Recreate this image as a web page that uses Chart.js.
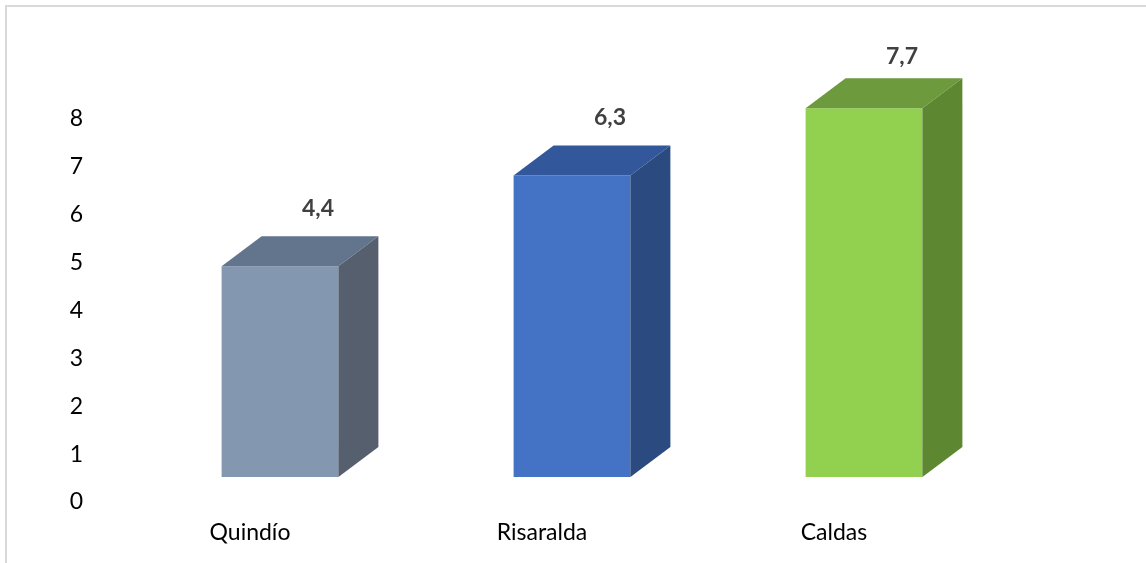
<!DOCTYPE html>
<html>
<head>
<meta charset="utf-8">
<title>Quindío, Risaralda, Caldas</title>
<script src="https://cdn.jsdelivr.net/npm/chart.js@4/dist/chart.umd.min.js"></script>
<style>
  html, body { margin: 0; padding: 0; background: #ffffff; }
  canvas { display: block; }
</style>
</head>
<body>
<canvas id="chart" width="1146" height="563"></canvas>
<script>
// ===== DATA =====
const categories = ['Quindío', 'Risaralda', 'Caldas'];
const values = [4.4, 6.3, 7.7];
const valueLabels = ['4,4', '6,3', '7,7'];
const yTicks = [0, 1, 2, 3, 4, 5, 6, 7, 8];

// front / top / side colours for each box
const frontColors = ['#8497B0', '#4472C4', '#92D050'];
const topColors = ['#63758C', '#32579A', '#6C9A3C'];
const sideColors = ['#555F6E', '#2B4A80', '#5E8732'];

const DEPTH_X = 40;
const DEPTH_Y = 30;

/**
 * Draws the light frame on the top and left edges
 */
const framePlugin = {
  id: 'frame',
  beforeDraw(chart) {
    const ctx = chart.ctx;
    ctx.save();
    ctx.fillStyle = '#ffffff';
    ctx.fillRect(0, 0, chart.width, chart.height);
    ctx.fillStyle = '#D9D9D9';
    ctx.fillRect(5, 5, chart.width - 5, 2);
    ctx.fillRect(5, 5, 2, chart.height - 5);
    ctx.restore();
  }
};

/**
 * Adds the top and side faces to every bar, plus the value labels
 */
const boxPlugin = {
  id: 'box3d',
  afterDatasetsDraw(chart) {
    const ctx = chart.ctx;
    const meta = chart.getDatasetMeta(0);
    ctx.save();
    meta.data.forEach((bar, i) => {
      const left = bar.x - bar.width / 2;
      const right = bar.x + bar.width / 2;
      const top = bar.y;
      const bottom = bar.base;

      // top face
      ctx.fillStyle = topColors[i];
      ctx.beginPath();
      ctx.moveTo(left, top);
      ctx.lineTo(right, top);
      ctx.lineTo(right + DEPTH_X, top - DEPTH_Y);
      ctx.lineTo(left + DEPTH_X, top - DEPTH_Y);
      ctx.closePath();
      ctx.fill();

      // side face
      ctx.fillStyle = sideColors[i];
      ctx.beginPath();
      ctx.moveTo(right, top);
      ctx.lineTo(right + DEPTH_X, top - DEPTH_Y);
      ctx.lineTo(right + DEPTH_X, bottom - DEPTH_Y);
      ctx.lineTo(right, bottom);
      ctx.closePath();
      ctx.fill();

      // value label
      ctx.fillStyle = '#404040';
      ctx.font = 'bold 23px Lato, "Open Sans", sans-serif';
      ctx.textAlign = 'center';
      ctx.textBaseline = 'middle';
      const labelY = Math.max(top - 58, 57);
      ctx.fillText(valueLabels[i], bar.x + 38, labelY);
    });
    ctx.restore();
  }
};

new Chart(document.getElementById('chart'), {
  type: 'bar',
  data: {
    labels: categories,
    datasets: [{
      data: values,
      backgroundColor: frontColors,
      borderWidth: 0,
      barPercentage: 0.4,
      categoryPercentage: 1
    }]
  },
  options: {
    responsive: false,
    animation: false,
    layout: {
      padding: { top: 94, right: 136, bottom: 0, left: 0 }
    },
    plugins: {
      legend: { display: false },
      tooltip: { enabled: false }
    },
    scales: {
      x: {
        grid: { display: false, drawTicks: false },
        border: { display: false },
        afterFit: (scale) => { scale.height = 86; },
        ticks: {
          padding: 42,
          labelOffset: -30,
          color: '#000000',
          font: { family: 'Lato, "Open Sans", sans-serif', size: 23 }
        }
      },
      y: {
        min: yTicks[0],
        max: yTicks[yTicks.length - 1],
        grid: { display: false, drawTicks: false },
        border: { display: false },
        afterFit: (scale) => { scale.width = 134; },
        afterBuildTicks: (scale) => {
          scale.ticks = yTicks.map(v => ({ value: v }));
        },
        ticks: {
          padding: 51,
          labelOffset: 25,
          color: '#000000',
          font: { family: 'Lato, "Open Sans", sans-serif', size: 23 }
        }
      }
    }
  },
  plugins: [framePlugin, boxPlugin]
});
</script>
</body>
</html>
